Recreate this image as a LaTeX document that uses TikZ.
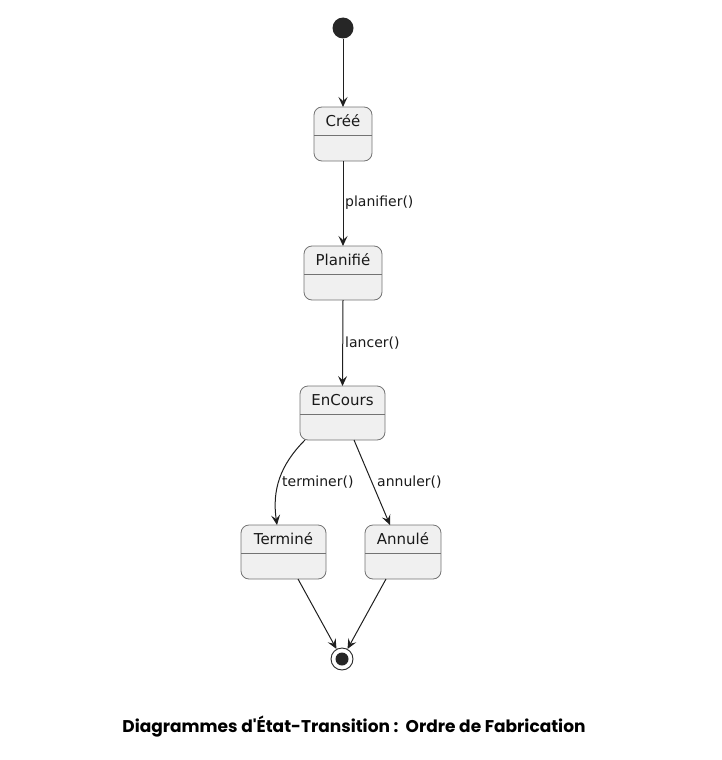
\documentclass[tikz,border=0pt]{standalone}
\usepackage{fontspec}
\setmainfont{DejaVu Sans}
\newfontfamily\titlefont{Poppins}[BoldFont={* Bold}]
\usetikzlibrary{arrows.meta,shapes.multipart}
\begin{document}
\begin{tikzpicture}[x=1pt,y=-1pt,
  statebox/.style={draw=black!55,fill=black!6,rounded corners=8pt,line width=0.8pt},
  statename/.style={font=\fontsize{15}{17}\selectfont,text=black!90},
  trans/.style={draw=black!88,line width=1pt,-{Stealth[length=10pt,width=9pt,inset=4pt]}},
  lbl/.style={font=\fontsize{14}{16}\selectfont,text=black!90,anchor=west,inner sep=0pt}]
\useasboundingbox (0,0) rectangle (722,760);
% start
\node[circle,fill=black!85,minimum size=21pt,inner sep=0pt] (start) at (343,28) {};
% states
\newcommand{\mkstate}[5]{%
  \draw[statebox] (#2,#3) rectangle (#4,#3+54);
  \coordinate (#1-n) at ({(#2+#4)/2},#3);
  \coordinate (#1-s) at ({(#2+#4)/2},#3+54);
  \draw[black!55,line width=0.8pt] (#2,#3+28) -- (#4,#3+28);
  \node[statename] (#1) at ({(#2+#4)/2},#3+14) {#5};}
\mkstate{cree}{314}{107}{372}{Créé}
\mkstate{plan}{304}{246}{382}{Planifié}
\mkstate{enc}{300}{386}{385}{EnCours}
\mkstate{term}{241}{525}{326}{Terminé}
\mkstate{ann}{365}{525}{441}{Annulé}
% end
\node[circle,draw=black!85,line width=0.9pt,fill=white,minimum size=22pt,inner sep=0pt] (end) at (342,659) {};
\node[circle,fill=black!85,minimum size=13pt,inner sep=0pt] at (end) {};
% transitions
\draw[trans] (start) -- (cree-n);
\draw[trans] (cree-s) -- (plan-n);
\draw[trans] (plan-s) -- (enc-n);
\coordinate (encL) at (305,440);
\coordinate (encR) at (354,440);
\coordinate (termN) at (277,525);
\coordinate (annN) at (390,525);
\draw[trans] (encL) .. controls (280,465) and (272,490) .. (termN);
\draw[trans] (encR) -- (annN);
\coordinate (termS) at (298,579);
\coordinate (annS) at (386,579);
\draw[trans] (termS) -- (end);
\draw[trans] (annS) -- (end);
% labels
\node[lbl] at (345,203) {planifier()};
\node[lbl] at (345,343) {lancer()};
\node[lbl] at (282,482) {terminer()};
\node[lbl] at (377,482) {annuler()};
% title
\node[font=\titlefont\bfseries\fontsize{17}{20}\selectfont] (title) at (354,727) {Diagrammes d'État-Transition :\ \ Ordre de Fabrication};
\end{tikzpicture}
\end{document}
